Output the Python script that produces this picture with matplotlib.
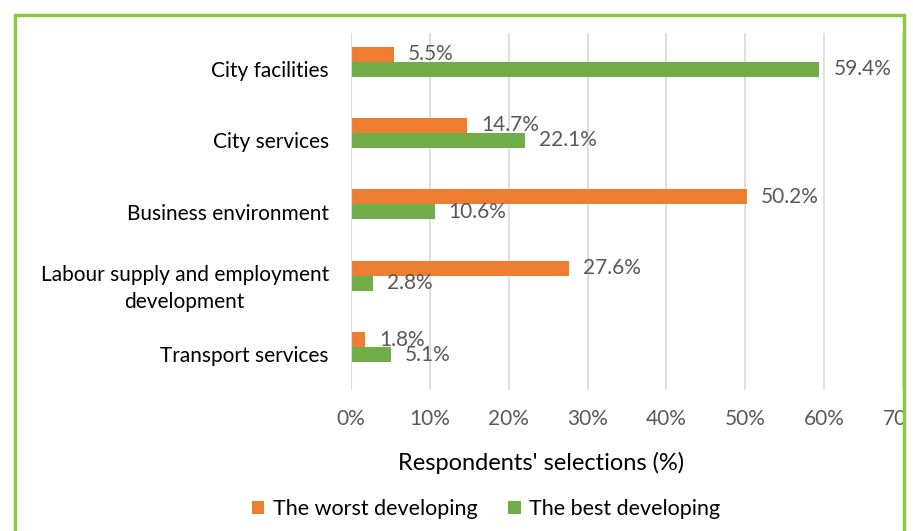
import matplotlib.pyplot as plt
from matplotlib.patches import Rectangle
import numpy as np

categories = ["City facilities", "City services", "Business environment",
              "Labour supply and employment\ndevelopment", "Transport services"]
worst = [5.5, 14.7, 50.2, 27.6, 1.8]
best = [59.4, 22.1, 10.6, 2.8, 5.1]
ticks = [0, 10, 20, 30, 40, 50, 60, 70]

orange = "#ED7D31"
green = "#70AD47"
grey = "#595959"

plt.rcParams["font.family"] = ["Lato", "DejaVu Sans"]

fig = plt.figure(figsize=(9.13, 5.31), dpi=100)
W, H = 913, 531
ax = fig.add_axes([351 / W, 1 - 390 / H, (903 - 351) / W, (390 - 33) / H])

y = np.arange(len(categories))
h = 0.21
shift = 0.1  # bars sit a bit above the category label in the source
ax.barh(y - shift - h / 2, worst, height=h, color=orange, label="The worst developing", zorder=3)
ax.barh(y - shift + h / 2, best, height=h, color=green, label="The best developing", zorder=3)

for yi, v in zip(y, worst):
    ax.annotate(f"{v}%", (v, yi - shift - h / 2), xytext=(10, 0), textcoords="offset points",
                va="center", ha="left", fontsize=15, color=grey)
for yi, v in zip(y, best):
    ax.annotate(f"{v}%", (v, yi - shift + h / 2), xytext=(10, 0), textcoords="offset points",
                va="center", ha="left", fontsize=15, color=grey)

ax.set_ylim(len(categories) - 0.5, -0.5)
ax.set_xlim(0, 70)
ax.set_xticks(ticks)
ax.set_xticklabels([f"{t}%" for t in ticks], fontsize=15, color=grey)
ax.set_yticks(y)
ax.set_yticklabels(categories, fontsize=15, color="black", multialignment="center",
                   linespacing=1.45)
ax.tick_params(axis="both", length=0)
ax.tick_params(axis="y", pad=16)
ax.tick_params(axis="x", pad=14)
ax.grid(axis="x", color="#D9D9D9", linewidth=1.2, zorder=0)
for s in ax.spines.values():
    s.set_visible(False)
ax.axvline(0, color="#D9D9D9", linewidth=1.5, zorder=4)

ax.set_xlabel("Respondents' selections (%)", fontsize=17, color="black", labelpad=16)
# axis title is centred on the whole chart, not on the plot area
ax.xaxis.label.set_x((541 - 351) / (903 - 351))

leg = fig.legend(loc="center", bbox_to_anchor=(486 / W, 1 - 509 / H), ncol=2,
                 frameon=False, fontsize=15.5, handlelength=0.6, handleheight=0.6,
                 columnspacing=1.4, handletextpad=0.4)

# green frame; right edge clips the last tick label like the source
fig.add_artist(Rectangle((905 / W, 0), 1, 1, transform=fig.transFigure,
                         facecolor="white", edgecolor="none", zorder=20))
fig.add_artist(Rectangle((15 / W, -0.1), (904 - 15) / W, 1 - 15 / H + 0.1,
                         transform=fig.transFigure, facecolor="none",
                         edgecolor="#92C83E", linewidth=2.5, zorder=21))

fig.savefig("out.png", dpi=100)
